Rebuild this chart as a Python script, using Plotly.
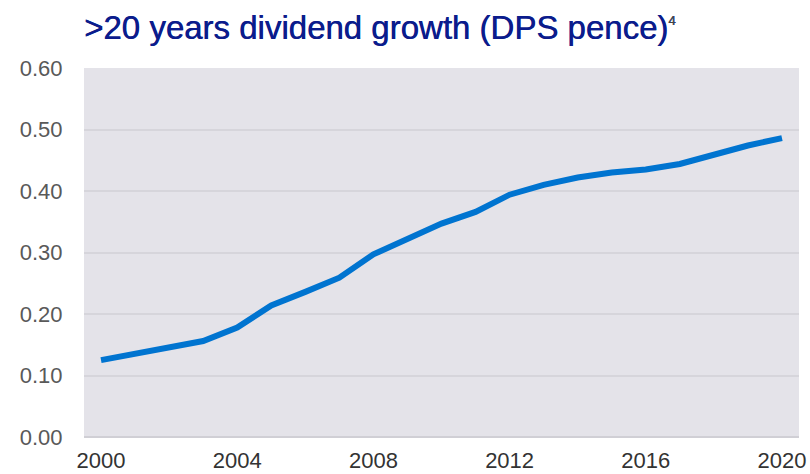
import plotly.graph_objects as go

years = list(range(2000, 2021))
dps = [0.125, 0.135, 0.145, 0.156, 0.178, 0.214, 0.236, 0.259, 0.297, 0.322,
       0.347, 0.366, 0.394, 0.410, 0.422, 0.430, 0.435, 0.444, 0.460, 0.474, 0.486]
x_ticks = [2000, 2004, 2008, 2012, 2016, 2020]
y_ticks = [0.0, 0.1, 0.2, 0.3, 0.4, 0.5, 0.6]
title_text = ">20 years dividend growth (DPS pence)"

W, H = 810, 474

fig = go.Figure()
fig.add_trace(go.Scatter(x=years, y=dps, mode="lines",
                         line=dict(color="#0074D0", width=6),
                         hoverinfo="skip", showlegend=False))

fig.update_layout(
    width=W, height=H,
    margin=dict(l=84, r=11, t=68, b=37, autoexpand=False),
    paper_bgcolor="white",
    plot_bgcolor="#E4E3E9",
    font=dict(family="Liberation Sans, Arial, sans-serif", size=22, color="#595959"),
    title=dict(
        text=title_text + "<sup><span style='font-size:13px;color:#444'>4</span></sup>",
        font=dict(family="Liberation Sans, Arial, sans-serif", size=33, color="#0B1C8C",
                  shadow="0.5px 0px 0px #0B1C8C"),
        xref="container", yref="container", x=84/W, xanchor="left",
        y=1 - 27/H, yanchor="middle",
    ),
    xaxis=dict(range=[1999.5, 2020.5], tickvals=x_ticks, ticktext=[str(t) for t in x_ticks],
               showgrid=False, zeroline=False, showline=False, automargin=False,
               ticks="outside", ticklen=4, tickcolor="rgba(0,0,0,0)",
               tickfont=dict(size=22, color="#333333")),
    yaxis=dict(range=[0, 0.6], tickvals=y_ticks, ticktext=[f"{v:.2f}" for v in y_ticks],
               showgrid=True, gridcolor="#D6D5DB", gridwidth=2, automargin=False,
               zeroline=True, zerolinecolor="#D0CFD5", zerolinewidth=2,
               ticks="outside", ticklen=16, tickcolor="rgba(0,0,0,0)",
               tickfont=dict(size=22, color="#595959")),
)

fig.write_html("out.html",
               config={"displayModeBar": False, "staticPlot": True},
               post_script="document.body.style.margin='0';document.body.style.overflow='hidden';")
